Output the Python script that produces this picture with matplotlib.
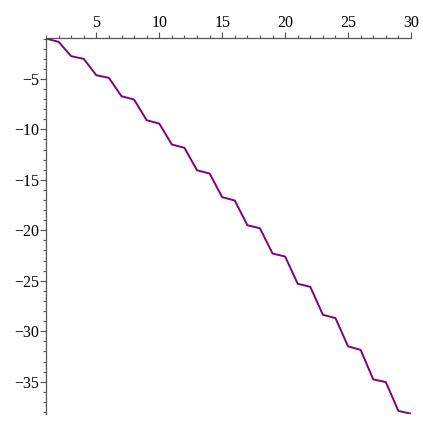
import numpy as np
import matplotlib.pyplot as plt
from matplotlib.ticker import MultipleLocator

# staircase values
x = list(range(1, 31))
y = [-1.0, -1.33, -2.75, -3.02, -4.64, -4.9, -6.72, -7.05, -9.1, -9.43,
     -11.5, -11.83, -14.05, -14.38, -16.72, -17.05, -19.5, -19.8, -22.3, -22.6,
     -25.3, -25.6, -28.37, -28.7, -31.5, -31.85, -34.77, -35.04, -37.9, -38.17]

xticks = [5, 10, 15, 20, 25, 30]
yticks = [-5, -10, -15, -20, -25, -30, -35]

plt.rcParams['font.family'] = ['Liberation Serif', 'DejaVu Serif']

W, H = 423, 423
fig = plt.figure(figsize=(W / 100, H / 100), dpi=100)
ax = fig.add_axes([46 / W, 1 - 414 / H, (411 - 46) / W, (414 - 38) / H])

ax.plot(x, y, color='#800080', linewidth=1.4)

ax.set_xlim(1, 30)
ax.set_ylim(-38.2, -0.95)

# Maple-like axes: x axis along the top, y axis on the left
for side in ['bottom', 'right']:
    ax.spines[side].set_visible(False)
for side in ['top', 'left']:
    ax.spines[side].set_color('#555555')
    ax.spines[side].set_linewidth(0.9)

ax.xaxis.tick_top()
ax.set_xticks(xticks)
ax.set_yticks(yticks)
ax.xaxis.set_minor_locator(MultipleLocator(1))
ax.yaxis.set_minor_locator(MultipleLocator(1))
ax.tick_params(which='major', length=4, width=0.8, color='#555555',
               labelsize=11.5, pad=1)
ax.tick_params(which='minor', length=2, width=0.8, color='#555555')

fig.savefig('out.png', dpi=100)
